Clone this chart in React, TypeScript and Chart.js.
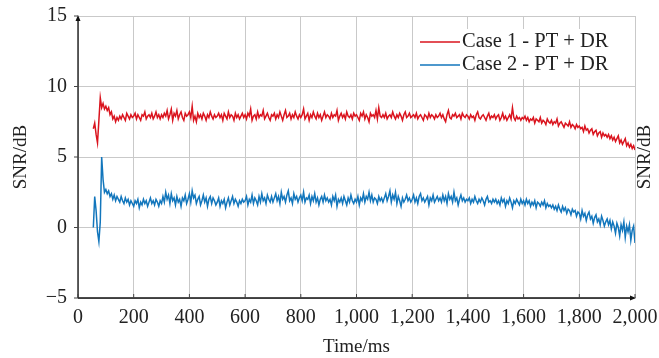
import React, { useEffect, useRef } from "react";
import { Chart, registerables } from "chart.js";

Chart.register(...registerables);

const timeMs = [
  55, 60, 65, 70, 75, 80, 85, 90, 95,
  100, 105, 110, 115, 120, 125, 130, 135, 140, 145, 150, 155, 160, 165, 170, 175, 180, 185, 190, 195,
  200, 205, 210, 215, 220, 225, 230, 235, 240, 245, 250, 255, 260, 265, 270, 275, 280, 285, 290, 295,
  300, 305, 310, 315, 320, 325, 330, 335, 340, 345, 350, 355, 360, 365, 370, 375, 380, 385, 390, 395,
  400, 405, 410, 415, 420, 425, 430, 435, 440, 445, 450, 455, 460, 465, 470, 475, 480, 485, 490, 495,
  500, 505, 510, 515, 520, 525, 530, 535, 540, 545, 550, 555, 560, 565, 570, 575, 580, 585, 590, 595,
  600, 605, 610, 615, 620, 625, 630, 635, 640, 645, 650, 655, 660, 665, 670, 675, 680, 685, 690, 695,
  700, 705, 710, 715, 720, 725, 730, 735, 740, 745, 750, 755, 760, 765, 770, 775, 780, 785, 790, 795,
  800, 805, 810, 815, 820, 825, 830, 835, 840, 845, 850, 855, 860, 865, 870, 875, 880, 885, 890, 895,
  900, 905, 910, 915, 920, 925, 930, 935, 940, 945, 950, 955, 960, 965, 970, 975, 980, 985, 990, 995,
  1000, 1005, 1010, 1015, 1020, 1025, 1030, 1035, 1040, 1045, 1050, 1055, 1060, 1065, 1070, 1075, 1080, 1085, 1090, 1095,
  1100, 1105, 1110, 1115, 1120, 1125, 1130, 1135, 1140, 1145, 1150, 1155, 1160, 1165, 1170, 1175, 1180, 1185, 1190, 1195,
  1200, 1205, 1210, 1215, 1220, 1225, 1230, 1235, 1240, 1245, 1250, 1255, 1260, 1265, 1270, 1275, 1280, 1285, 1290, 1295,
  1300, 1305, 1310, 1315, 1320, 1325, 1330, 1335, 1340, 1345, 1350, 1355, 1360, 1365, 1370, 1375, 1380, 1385, 1390, 1395,
  1400, 1405, 1410, 1415, 1420, 1425, 1430, 1435, 1440, 1445, 1450, 1455, 1460, 1465, 1470, 1475, 1480, 1485, 1490, 1495,
  1500, 1505, 1510, 1515, 1520, 1525, 1530, 1535, 1540, 1545, 1550, 1555, 1560, 1565, 1570, 1575, 1580, 1585, 1590, 1595,
  1600, 1605, 1610, 1615, 1620, 1625, 1630, 1635, 1640, 1645, 1650, 1655, 1660, 1665, 1670, 1675, 1680, 1685, 1690, 1695,
  1700, 1705, 1710, 1715, 1720, 1725, 1730, 1735, 1740, 1745, 1750, 1755, 1760, 1765, 1770, 1775, 1780, 1785, 1790, 1795,
  1800, 1805, 1810, 1815, 1820, 1825, 1830, 1835, 1840, 1845, 1850, 1855, 1860, 1865, 1870, 1875, 1880, 1885, 1890, 1895,
  1900, 1905, 1910, 1915, 1920, 1925, 1930, 1935, 1940, 1945, 1950, 1955, 1960, 1965, 1970, 1975, 1980, 1985, 1990, 1995,
  2000,
];

const case1 = [
  7.0, 7.4, 6.6, 6.0, 7.6, 9.2, 8.5, 8.8, 8.4,
  8.6, 8.3, 8.5, 8.0, 8.2, 7.7, 7.9, 7.5, 7.8, 7.6, 7.9, 7.7, 8.0, 7.8, 7.6, 8.1, 7.9, 7.7, 8.0, 7.8,
  7.9, 8.1, 7.7, 8.0, 7.8, 7.6, 8.0, 7.9, 8.2, 7.7, 7.9, 8.0, 7.8, 8.1, 7.7, 7.9, 8.2, 7.8, 8.0, 7.7,
  8.0, 7.8, 8.1, 7.9, 8.3, 7.7, 8.0, 8.4, 7.6, 8.1, 7.9, 8.3, 7.7, 8.0, 8.2, 7.8, 7.6, 8.1, 7.9, 8.0,
  8.2, 7.8, 8.6, 7.6, 7.9, 7.5, 8.1, 7.8, 8.0, 7.7, 8.1, 7.9, 7.6, 8.0, 7.8, 8.2, 7.9, 7.7, 8.0, 7.8,
  7.9, 8.1, 7.8, 8.0, 7.6, 8.1, 7.9, 7.7, 8.2, 7.8, 8.0, 7.9, 7.6, 8.1, 7.8, 8.0, 7.7, 7.9, 8.1, 7.8,
  8.0, 7.7, 8.1, 7.9, 8.4, 7.6, 7.9, 8.0, 7.7, 8.2, 7.8, 8.0, 7.9, 8.3, 7.7, 7.9, 8.1, 7.8, 7.6, 8.0,
  7.9, 8.1, 7.7, 8.0, 7.8, 8.2, 7.9, 7.6, 8.0, 8.3, 7.8, 7.9, 8.1, 7.7, 8.0, 7.8, 8.2, 7.9, 7.7, 8.0,
  7.8, 8.0, 8.4, 7.7, 7.9, 8.1, 7.6, 8.0, 7.8, 8.2, 7.9, 7.7, 8.1, 7.8, 8.0, 7.6, 7.9, 8.2, 7.8, 8.0,
  7.9, 7.7, 8.1, 7.8, 8.0, 7.9, 8.3, 7.6, 7.9, 8.1, 7.8, 8.0, 7.7, 8.2, 7.9, 7.8, 8.0, 7.7, 8.1, 7.9,
  8.0, 7.8, 7.6, 8.1, 7.9, 8.2, 7.7, 8.0, 7.8, 7.5, 8.1, 7.9, 8.0, 7.8, 8.3, 7.7, 8.5, 7.9, 7.8, 8.0,
  7.8, 8.1, 7.7, 7.9, 8.0, 7.8, 8.2, 7.9, 7.7, 8.0, 7.8, 8.1, 7.9, 7.6, 8.0, 8.2, 7.8, 7.9, 8.1, 7.8,
  7.9, 8.0, 7.8, 8.1, 7.7, 7.9, 8.0, 7.8, 7.6, 8.0, 7.9, 7.7, 8.1, 7.8, 8.0, 7.9, 7.7, 8.0, 7.8, 7.9,
  8.1, 7.8, 8.0, 7.7, 7.5, 8.0, 8.3, 7.8, 7.7, 8.0, 7.9, 8.1, 7.8, 7.9, 8.0, 7.7, 8.1, 7.9, 7.8, 8.0,
  7.9, 7.7, 8.0, 7.8, 7.9, 7.6, 8.0, 8.2, 7.8, 7.7, 7.9, 8.0, 7.8, 7.6, 7.9, 8.1, 7.7, 7.9, 7.8, 8.0,
  7.7, 7.9, 8.0, 7.6, 7.8, 8.1, 7.7, 7.9, 7.6, 7.8, 8.0, 7.7, 8.5, 7.8, 7.6, 7.9, 7.7, 7.8, 7.6, 7.8,
  7.7, 7.9, 7.6, 7.8, 7.5, 7.7, 7.6, 7.8, 7.4, 7.7, 7.6, 7.5, 7.8, 7.4, 7.6, 7.5, 7.3, 7.7, 7.5, 7.4,
  7.6, 7.3, 7.5, 7.4, 7.7, 7.2, 7.4, 7.5, 7.3, 7.1, 7.4, 7.3, 7.2, 7.5, 7.1, 7.3, 7.2, 7.0, 7.3, 7.1,
  7.2, 7.0, 7.1, 6.8, 7.2, 6.9, 7.0, 6.7, 6.9, 7.0, 6.6, 6.8, 6.9, 6.5, 6.7, 6.8, 6.4, 6.7, 6.5, 6.6,
  6.4, 6.6, 6.3, 6.5, 6.2, 6.4, 6.1, 6.3, 6.5, 6.0, 6.2, 5.9, 6.1, 6.3, 5.8, 6.0, 5.7, 5.9, 5.6, 5.8,
  5.5,
];

const case2 = [
  0.0, 2.2, 1.2, -0.3, -1.0, 0.4, 5.0, 3.4, 2.5,
  2.7, 2.4, 2.6, 2.2, 2.4, 2.0, 2.3, 1.9, 2.2, 2.0, 1.8, 2.2, 1.9, 1.7, 2.1, 1.8, 2.0, 1.6, 1.9, 1.7,
  1.5, 1.9, 1.7, 2.0, 1.4, 1.8, 1.6, 2.0, 1.7, 1.9, 1.5, 1.8, 2.1, 1.7, 1.9, 1.6, 2.0, 1.8, 1.5, 1.9,
  1.7, 2.2, 1.8, 2.5, 2.0, 2.3, 1.7, 2.4, 1.9, 2.1, 1.6, 2.2, 1.8, 2.0, 1.5, 2.1, 1.9, 2.3, 1.7, 2.0,
  2.4, 1.8, 2.6, 2.1, 2.3, 1.7, 2.0, 2.2, 1.6, 1.9, 2.3, 1.8, 2.1, 1.5, 2.0, 2.2, 1.7, 2.1, 1.9, 1.6,
  1.8, 2.1, 1.5, 1.9, 1.7, 2.0, 1.4, 1.8, 2.1, 1.6, 1.9, 2.2, 1.7, 2.0, 1.8, 1.5, 1.9, 1.7, 2.0, 1.8,
  1.9, 2.2, 1.6, 2.0, 1.8, 2.3, 1.7, 2.1, 1.9, 1.6, 2.2, 1.8, 2.4, 1.9, 2.1, 1.7, 2.3, 2.0, 1.8, 2.2,
  1.8, 2.1, 2.4, 1.9, 2.2, 1.7, 2.5, 2.0, 2.2, 1.8, 2.3, 2.6, 1.9, 2.1, 1.7, 2.4, 2.0, 2.2, 1.8, 2.1,
  2.3, 1.9, 2.5, 1.8, 2.1, 2.0, 2.3, 1.7, 2.2, 1.9, 2.4, 1.8, 2.1, 1.6, 2.0, 2.2, 1.8, 2.3, 1.9, 2.1,
  1.8, 2.0, 1.6, 2.2, 1.9, 2.3, 1.5, 2.0, 1.8, 2.1, 1.7, 2.2, 1.9, 1.6, 2.1, 1.8, 2.3, 1.9, 1.7, 2.0,
  1.8, 2.2, 1.6, 2.1, 1.9, 2.4, 1.8, 2.2, 2.0, 2.5, 1.9, 2.3, 1.8, 2.1, 2.0, 1.7, 2.2, 1.9, 2.1, 1.8,
  2.1, 2.4, 1.9, 2.2, 2.6, 1.8, 2.3, 2.0, 2.5, 1.7, 2.2, 1.9, 1.5, 2.1, 1.8, 2.0, 2.3, 1.9, 2.1, 1.8,
  2.0, 2.3, 1.8, 2.1, 1.7, 2.2, 2.4, 1.9, 2.1, 1.8, 2.0, 2.2, 1.6, 2.1, 1.9, 2.3, 1.8, 2.0, 2.2, 1.9,
  2.1, 1.8, 2.3, 1.9, 2.2, 1.7, 2.4, 2.0, 2.2, 1.8, 2.5, 1.9, 2.1, 1.6, 2.0, 2.3, 1.9, 2.1, 1.8, 2.0,
  1.9, 2.1, 1.7, 2.0, 1.8, 2.2, 1.9, 1.7, 2.0, 1.8, 2.1, 1.9, 1.6, 2.0, 2.2, 1.8, 1.9, 1.7, 2.0, 1.8,
  2.0, 1.7, 1.9, 1.6, 2.1, 1.8, 2.0, 1.5, 1.9, 1.7, 2.1, 1.8, 1.4, 1.9, 1.7, 2.0, 1.8, 1.6, 2.0, 1.7,
  1.9, 1.6, 2.0, 1.7, 1.9, 1.5, 1.8, 1.6, 1.9, 1.4, 1.8, 1.7, 1.5, 1.8, 1.6, 1.9, 1.4, 1.7, 1.5, 1.6,
  1.4, 1.6, 1.3, 1.5, 1.2, 1.6, 1.3, 1.1, 1.5, 1.2, 1.4, 1.0, 1.3, 1.2, 0.9, 1.3, 1.1, 1.2, 0.8, 1.1,
  1.0, 0.6, 1.2, 0.8, 1.0, 0.5, 0.9, 1.1, 0.6, 0.8, 0.3, 0.7, 0.9, 0.4, 0.6, 0.2, 0.8, 0.5, 0.1, 0.4,
  0.6, 0.2, 0.5, -0.1, 0.4, 0.1, -0.4, 0.3, 0.0, -0.6, 0.2, -0.2, 0.4, -0.7, 0.1, -0.3, 0.2, -0.9, -0.2, 0.1,
  -1.1,
];

const seriesNames = ["Case 1 - PT + DR", "Case 2 - PT + DR"];
const seriesColors = ["rgb(218,20,30)", "rgb(18,118,188)"];
const xTicks = [0, 200, 400, 600, 800, 1000, 1200, 1400, 1600, 1800, 2000];
const yTicks = [-5, 0, 5, 10, 15];
const xTitle = "Time/ms";
const yTitle = "SNR/dB";

const FONT = "'Liberation Serif', 'Times New Roman', serif";

const decorPlugin = {
  id: "decor",
  afterDraw(chart: any) {
    const { ctx, chartArea } = chart;
    const { left, right, top, bottom } = chartArea;
    const xs = chart.scales.x;
    const ys = chart.scales.y;
    ctx.save();
    ctx.strokeStyle = "#111";
    ctx.fillStyle = "#111";
    ctx.lineWidth = 1.3;
    ctx.beginPath();
    ctx.moveTo(left, bottom);
    ctx.lineTo(left, top + 2);
    ctx.moveTo(left, bottom);
    ctx.lineTo(right - 2, bottom);
    ctx.stroke();
    ctx.beginPath();
    ctx.moveTo(left, top - 1);
    ctx.lineTo(left - 2.5, top + 5);
    ctx.lineTo(left + 2.5, top + 5);
    ctx.closePath();
    ctx.fill();
    ctx.beginPath();
    ctx.moveTo(right + 1, bottom);
    ctx.lineTo(right - 5, bottom - 2.5);
    ctx.lineTo(right - 5, bottom + 2.5);
    ctx.closePath();
    ctx.fill();
    ctx.lineWidth = 1;
    ctx.strokeStyle = "#444";
    ctx.beginPath();
    xTicks.forEach((t) => {
      const px = xs.getPixelForValue(t);
      ctx.moveTo(px, bottom);
      ctx.lineTo(px, bottom - 4);
    });
    yTicks.forEach((t) => {
      const py = ys.getPixelForValue(t);
      ctx.moveTo(left - 4, py);
      ctx.lineTo(left, py);
    });
    ctx.stroke();

    // legend
    ctx.fillStyle = "#fff";
    ctx.fillRect(415, 29, 198, 50);
    ctx.font = `20.5px ${FONT}`;
    ctx.textBaseline = "middle";
    ctx.textAlign = "left";
    const rows = [42, 65];
    seriesNames.forEach((name, i) => {
      ctx.strokeStyle = seriesColors[i];
      ctx.lineWidth = 1.3;
      ctx.beginPath();
      ctx.moveTo(420, rows[i]);
      ctx.lineTo(460, rows[i]);
      ctx.stroke();
      ctx.fillStyle = "#222";
      ctx.fillText(name, 462, rows[i]);
    });

    // right axis title
    ctx.save();
    ctx.translate(645, (top + bottom) / 2);
    ctx.rotate(-Math.PI / 2);
    ctx.textAlign = "center";
    ctx.textBaseline = "middle";
    ctx.fillStyle = "#222";
    ctx.font = `19px ${FONT}`;
    ctx.fillText(yTitle, 0, 0);
    ctx.restore();
    ctx.restore();
  },
};

export default function App() {
  const ref = useRef<HTMLCanvasElement | null>(null);
  useEffect(() => {
    if (!ref.current) return;
    const chart = new Chart(ref.current, {
      type: "line",
      data: {
        datasets: [case1, case2].map((vals, i) => ({
          label: seriesNames[i],
          data: vals.map((v, j) => ({ x: timeMs[j], y: v })),
          borderColor: seriesColors[i],
          backgroundColor: seriesColors[i],
          borderWidth: 1.5,
          pointRadius: 0,
          tension: 0,
        })),
      },
      options: {
        animation: false,
        responsive: false,
        maintainAspectRatio: false,
        layout: { padding: { top: 16, right: 24, left: 0, bottom: 0 } },
        plugins: {
          legend: { display: false },
          tooltip: { enabled: false },
        },
        scales: {
          x: {
            type: "linear",
            min: 0,
            max: 2000,
            afterBuildTicks: (s: any) => {
              s.ticks = xTicks.map((v) => ({ value: v }));
            },
            afterFit: (s: any) => {
              s.height = 60;
              s.paddingLeft = 0;
              s.paddingRight = 0;
            },
            ticks: {
              font: { family: FONT, size: 20 },
              color: "#222",
              padding: 8,
              maxRotation: 0,
              autoSkip: false,
              callback: (v: any) => Number(v).toLocaleString("en-US"),
            },
            grid: { color: "#c9c9c9", lineWidth: 1, drawTicks: false },
            border: { display: false },
            title: {
              display: true,
              text: xTitle,
              font: { family: FONT, size: 19, lineHeight: 1 },
              color: "#222",
              padding: { top: 0, bottom: 1 },
            },
          },
          y: {
            min: -5,
            max: 15,
            afterBuildTicks: (s: any) => {
              s.ticks = yTicks.map((v) => ({ value: v }));
            },
            afterFit: (s: any) => {
              s.width = 78;
              s.paddingTop = 0;
              s.paddingBottom = 0;
            },
            ticks: {
              font: { family: FONT, size: 20 },
              color: "#222",
              padding: 11,
              callback: (v: any) => (Number(v) < 0 ? "\u2212" + Math.abs(Number(v)) : String(v)),
            },
            grid: { color: "#c9c9c9", lineWidth: 1, drawTicks: false },
            border: { display: false },
            title: {
              display: true,
              text: yTitle,
              font: { family: FONT, size: 19, lineHeight: 1 },
              color: "#222",
              padding: { top: 12, bottom: 0 },
            },
          },
        },
      },
      plugins: [decorPlugin],
    });
    return () => chart.destroy();
  }, []);
  return (
    <div style={{ position: "fixed", left: 0, top: 0, width: 659, height: 358, background: "#fff" }}>
      <canvas ref={ref} width={659} height={358} style={{ width: 659, height: 358 }} />
    </div>
  );
}
